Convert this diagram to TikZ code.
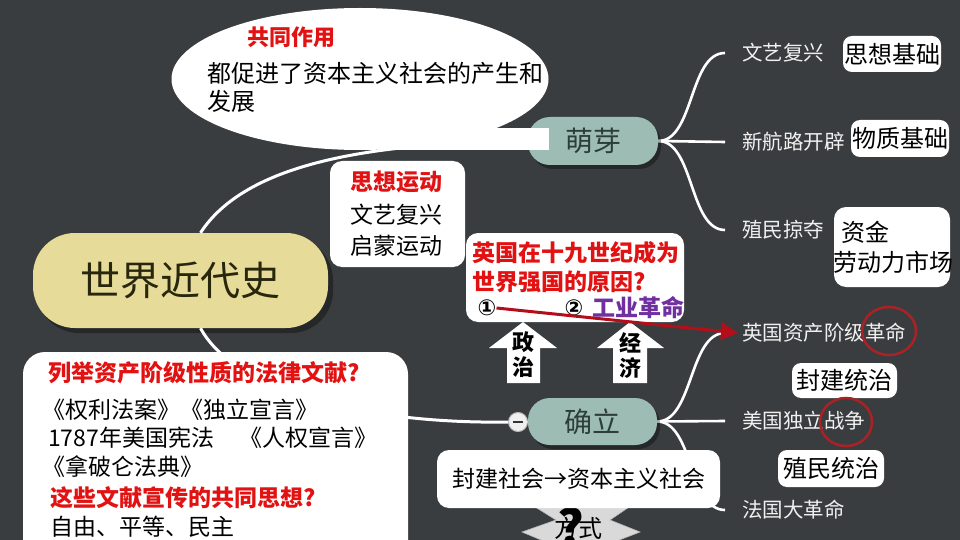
\documentclass[tikz,border=0pt]{standalone}
\usepackage{fontspec}
\setmainfont{Noto Sans CJK SC}
\newfontfamily\numfont{DejaVu Sans}
\usetikzlibrary{shapes.geometric,arrows.meta}
\definecolor{bgc}{RGB}{58,61,63}
\definecolor{yel}{RGB}{230,219,152}
\definecolor{teal}{RGB}{157,189,180}
\definecolor{tealtxt}{RGB}{45,62,58}
\definecolor{redtxt}{RGB}{226,18,18}
\definecolor{purp}{RGB}{112,48,160}
\definecolor{darkred}{RGB}{180,14,26}
\definecolor{circred}{RGB}{168,34,38}
\definecolor{lbltxt}{RGB}{240,240,240}
\tikzset{
  wbox/.style={fill=white, rounded corners=12pt, inner sep=0pt, draw=none},
  pill/.style={fill=teal, rounded corners=22pt, inner sep=0pt, text=tealtxt, font=\fontsize{28}{30}\selectfont},
  txt/.style={inner sep=0pt, anchor=west, font=\fontsize{23}{26}\selectfont},
  rtxt/.style={txt, text=redtxt, font=\fontsize{23}{26}\selectfont\bfseries},
  lbl/.style={inner sep=0pt, anchor=west, text=lbltxt, font=\fontsize{20.5}{24}\selectfont},
  link/.style={draw=white, line width=3pt},
  branch/.style={draw=white, line width=2.6pt},
  uparrow/.style={fill=white},
  circmark/.style={draw=circred, line width=2.5pt},
  numtxt/.style={inner sep=0pt, font=\numfont\fontsize{22}{26}\selectfont\bfseries},
  redarrow/.style={draw=darkred, line width=3pt, -{Triangle[length=17pt,width=17pt]}}
}
\begin{document}
\begin{tikzpicture}[x=1pt,y=-1pt]
\useasboundingbox (0,0) rectangle (960,540);
\clip (0,0) rectangle (960,540);
\fill[bgc] (0,0) rectangle (960,540);

% ---- central node and pills (positions) ----
\fill[black,opacity=0.35,rounded corners=42pt] (37,238) rectangle (333,333);
\node[fill=yel, rounded corners=42pt, minimum width=295pt, minimum height=95pt, inner sep=0pt,
      text={rgb,255:red,40;green,38;blue,12}, font=\fontsize{40}{44}\selectfont] (cen) at (180.5,280.5) {世界近代史};

\node[inner sep=0pt, minimum width=130pt, minimum height=48pt] (mya) at (593,141) {};
\node[inner sep=0pt, minimum width=129pt, minimum height=47pt] (que) at (592.5,421.5) {};
\node[circle, fill=gray!12, draw=gray!55, line width=1pt, minimum size=19pt, inner sep=0pt] (col) at (518,422) {};

% ---- labels on the right ----
\node[lbl] (l1) at (742,53) {文艺复兴};
\node[lbl] (l2) at (742,142) {新航路开辟};
\node[lbl] (l3) at (742,230) {殖民掠夺};
\node[lbl] (l4) at (742,333) {英国资产阶级革命};
\node[lbl] (l5) at (742,421) {美国独立战争};
\node[lbl] (l6) at (742,510) {法国大革命};

% ---- connectors ----
\draw[link] ([xshift=20pt]cen.north) .. controls (248,160) and (380,143) .. (mya.west);
\draw[link] ([xshift=20pt]cen.south) .. controls (240,400) and (390,424) .. (col.west);
\draw[link] (col.east) -- (que.west);

\draw[branch] (mya.east) .. controls +(36,0) and +(-36,0) .. ([xshift=-17pt]l1.west);
\draw[branch] (mya.east) -- ([xshift=-17pt]l2.west);
\draw[branch] (mya.east) .. controls +(36,0) and +(-36,0) .. ([xshift=-17pt]l3.west);
\draw[branch] (que.east) .. controls +(36,0) and +(-36,0) .. ([xshift=-17pt]l4.west);
\draw[branch] (que.east) -- ([xshift=-17pt]l5.west);
\draw[branch] (que.east) .. controls +(36,0) and +(-36,0) .. ([xshift=-17pt]l6.west);

% ---- pills ----
\fill[black,opacity=0.35,rounded corners=22pt] (531,121) rectangle (661,169);
\node[pill, minimum width=130pt, minimum height=48pt] at (mya) {萌芽};
\fill[black,opacity=0.35,rounded corners=22pt] (531,402) rectangle (660,449);
\node[pill, minimum width=129pt, minimum height=47pt] at (que) {确立};
\draw[gray!40!black, line width=1.6pt] ([xshift=-5pt]col.center) -- ([xshift=5pt]col.center);

% ---- ellipse callout ----
\node[ellipse, fill=white, minimum width=377pt, minimum height=142pt, inner sep=0pt] (ell) at (360,79) {};
\fill[white] (395,128) rectangle (549,150);
\node[rtxt, font=\fontsize{22}{26}\selectfont\bfseries] (e1) at (247,37) {共同作用};
\node[txt, font=\fontsize{24}{27}\selectfont] (e2) at (207,73) {都促进了资本主义社会的产生和};
\node[txt, font=\fontsize{24}{27}\selectfont] (e3) at (207,101) {发展};

% ---- thought movement box ----
\node[wbox, minimum width=135pt, minimum height=106pt] (sx) at (397.5,214) {};
\node[rtxt] (sx1) at (350,182) {思想运动};
\node[txt] (sx2) at (350,215) {文艺复兴};
\node[txt] (sx3) at (350,246) {启蒙运动};

% ---- Britain box ----
\node[wbox, minimum width=218pt, minimum height=89pt] (gb) at (575,277.5) {};
\node[rtxt] (gb1) at (472,253) {英国在十九世纪成为};
\node[rtxt] (gb2) at (472,282) {世界强国的原因?};
\node[numtxt] (n1) at (487,308) {①};
\node[numtxt] (n2) at (574,308) {②};
\node[txt, text=purp, font=\fontsize{23}{26}\selectfont\bfseries] (gb3) at (592,308) {工业革命};

% ---- up arrows ----
\fill[uparrow] (523,322) -- (557,348) -- (540,348) -- (540,383) -- (507,383) -- (507,348) -- (489,348) -- cycle;
\fill[uparrow] (630,322) -- (664,348) -- (647,348) -- (647,383) -- (613,383) -- (613,348) -- (597,348) -- cycle;
\node[inner sep=0pt, align=center, font=\fontsize{22}{25}\selectfont\bfseries] (zz) at (523,355) {政\\治};
\node[inner sep=0pt, align=center, font=\fontsize{22}{25}\selectfont\bfseries] (jj) at (630,355) {经\\济};

% ---- red arrow ----
\draw[redarrow] (n1.east) -- ([xshift=-4pt]l4.west);

% ---- right-hand boxes ----
\node[wbox, rounded corners=9pt, minimum width=98pt, minimum height=36pt, font=\fontsize{24}{27}\selectfont] (b1) at (892,54) {思想基础};
\node[wbox, rounded corners=9pt, minimum width=98pt, minimum height=37pt, font=\fontsize{24}{27}\selectfont] (b2) at (900,138.5) {物质基础};
\node[wbox, rounded corners=12pt, minimum width=116pt, minimum height=80pt] (b3) at (892,247) {};
\node[txt, font=\fontsize{24}{27}\selectfont] (b3a) at (841,232) {资金};
\node[txt, font=\fontsize{24}{27}\selectfont] (b3b) at (833,262) {劳动力市场};
\node[wbox, rounded corners=9pt, minimum width=105pt, minimum height=35pt, font=\fontsize{24}{27}\selectfont] (b4) at (844.5,380.5) {封建统治};
\node[wbox, rounded corners=9pt, minimum width=106pt, minimum height=37pt, font=\fontsize{24}{27}\selectfont] (b5) at (831,468.5) {殖民统治};

% ---- red circles ----
\draw[circmark] (889,331) ellipse [x radius=27pt, y radius=24pt];
\draw[circmark] (846,422) ellipse [x radius=26pt, y radius=24pt];

% ---- burst with question ----
\fill[gray!30, draw=gray!55, line width=0.6pt] (532,505) -- (556,520) -- (522,532) -- (546,542) -- (614,542) -- (640,532) -- (610,520) -- (632,505) -- cycle;
\node[inner sep=0pt, font=\fontsize{24}{27}\selectfont] (fs) at (578,528) {方式};
\node[inner sep=0pt, font=\fontsize{50}{54}\selectfont\bfseries] (qm) at (571,527) {?};

% ---- feudal -> capitalist box ----
\node[wbox, minimum width=283pt, minimum height=58pt, font=\fontsize{23}{26}\selectfont] (fc) at (578.5,479) {封建社会→资本主义社会};

% ---- lower-left box ----
\node[wbox, rounded corners=22pt, minimum width=385pt, minimum height=220pt] (ll) at (215.5,462) {};
\node[rtxt] (ll1) at (48,373) {列举资产阶级性质的法律文献?};
\node[txt] (ll2) at (42,410) {《权利法案》《独立宣言》};
\node[txt] (ll3) at (48,438) {1787年美国宪法\hspace{1.1em}《人权宣言》};
\node[txt] (ll4) at (42,467) {《拿破仑法典》};
\node[rtxt] (ll5) at (50,498) {这些文献宣传的共同思想?};
\node[txt] (ll6) at (50,527) {自由、平等、民主};
\end{tikzpicture}
\end{document}
